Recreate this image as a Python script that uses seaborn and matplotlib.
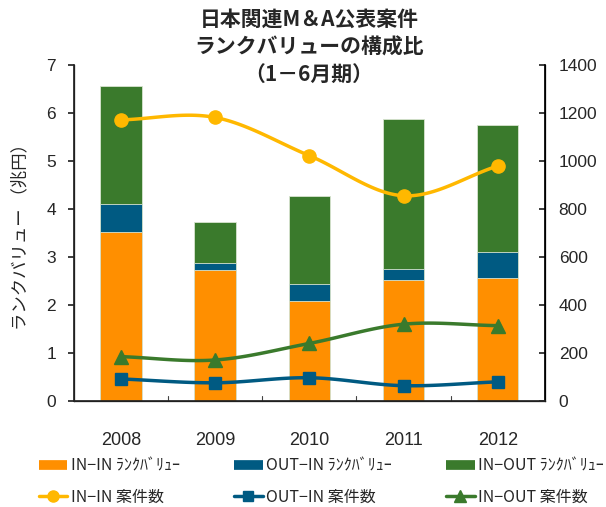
import numpy as np
import pandas as pd
import matplotlib
matplotlib.use("Agg")
import matplotlib.pyplot as plt
import seaborn as sns
from matplotlib.lines import Line2D

# ── Data ─────────────────────────────────────────────────────
years = ["2008", "2009", "2010", "2011", "2012"]
inin_value = [3.51, 2.73, 2.09, 2.52, 2.57]      # 兆円
outin_value = [0.59, 0.14, 0.34, 0.24, 0.54]
inout_value = [2.46, 0.85, 1.85, 3.11, 2.64]
inin_count = [1171, 1181, 1022, 855, 979]
outin_count = [92, 76, 97, 64, 80]
inout_count = [185, 171, 240, 320, 314]

# ── Colours ──────────────────────────────────────────────────
ORANGE = "#FF8F00"
BLUE = "#005A82"
GREEN = "#3A7A2C"
YELLOW = "#FFB800"

sns.set_theme(style="white")
plt.rcParams["font.family"] = ["Liberation Sans", "Noto Sans CJK JP", "DejaVu Sans"]
JP = ["Noto Sans CJK JP", "DejaVu Sans"]


def smooth(x, y, n=30):
    """Catmull-Rom style smoothing like Excel's smoothed line."""
    x = np.asarray(x, float)
    y = np.asarray(y, float)
    px = np.concatenate([[2 * x[0] - x[1]], x, [2 * x[-1] - x[-2]]])
    py = np.concatenate([[2 * y[0] - y[1]], y, [2 * y[-1] - y[-2]]])
    xs, ys = [], []
    for i in range(1, len(px) - 2):
        t = np.linspace(0, 1, n)
        for p, out in ((px, xs), (py, ys)):
            p0, p1, p2, p3 = p[i - 1], p[i], p[i + 1], p[i + 2]
            out.append(0.5 * ((2 * p1) + (-p0 + p2) * t
                              + (2 * p0 - 5 * p1 + 4 * p2 - p3) * t ** 2
                              + (-p0 + 3 * p1 - 3 * p2 + p3) * t ** 3))
    return np.concatenate(xs), np.concatenate(ys)


df = pd.DataFrame({"year": years, "inin": inin_value,
                   "outin": outin_value, "inout": inout_value})
df["lvl2"] = df["inin"] + df["outin"]
df["lvl3"] = df["lvl2"] + df["inout"]

fig = plt.figure(figsize=(6.06, 5.07), dpi=100)
ax = fig.add_axes([0.122, 0.209, 0.777, 0.663])

for col, color in (("lvl3", GREEN), ("lvl2", BLUE), ("inin", ORANGE)):
    sns.barplot(data=df, x="year", y=col, color=color, width=0.44,
                saturation=1, edgecolor="#d8e4d0", linewidth=0.6, ax=ax)

ax.set_ylim(0, 7)
ax.set_xlim(-0.5, 4.5)
ax.set_yticks(range(0, 8))
ax.set_xlabel("")
ax.set_ylabel("ランクバリュー （兆円）", family=JP, fontsize=12.5, labelpad=12)
ax.tick_params(axis="y", labelsize=12.5, length=4, direction="out", pad=9)
ax.set_xticks(range(5))
ax.set_xticklabels(years, fontsize=13)
ax.tick_params(axis="x", length=0, pad=22)
for b in np.arange(0.5, 4.5, 1):
    ax.plot([b, b], [0, 0.1], color="#444444", lw=0.8, zorder=1)
for s in ("left", "bottom", "right"):
    ax.spines[s].set_color("black")
    ax.spines[s].set_linewidth(0.9)
ax.spines["top"].set_visible(False)

ax2 = ax.twinx()
ax2.set_ylim(0, 1400)
ax2.set_yticks(range(0, 1401, 200))
ax2.tick_params(axis="y", labelsize=12.5, length=4, direction="in", pad=10)
ax2.spines["top"].set_visible(False)
ax2.spines["right"].set_color("black")

xpos = np.arange(len(years))
for vals, color, marker, ms in ((inin_count, YELLOW, "o", 9.5),
                                (outin_count, BLUE, "s", 9),
                                (inout_count, GREEN, "^", 10)):
    sx, sy = smooth(xpos, vals)
    ax2.plot(sx, sy, color=color, lw=2.5)
    ax2.plot(xpos, vals, ls="none", marker=marker, ms=ms, color=color)

for y, txt in ((0.963, "日本関連M＆A公表案件"),
               (0.908, "ランクバリューの構成比"),
               (0.852, "（1－6月期）")):
    fig.text(0.51, y, txt, family=JP, fontsize=15, fontweight="bold",
             ha="center", va="center")

bar_kw = dict(lw=7, solid_capstyle="butt")
handles = [
    Line2D([], [], color=ORANGE, **bar_kw), Line2D([], [], color=YELLOW, lw=2.5, marker="o", ms=8),
    Line2D([], [], color=BLUE, **bar_kw), Line2D([], [], color=BLUE, lw=2.5, marker="s", ms=7),
    Line2D([], [], color=GREEN, **bar_kw), Line2D([], [], color=GREEN, lw=2.5, marker="^", ms=8),
]
labels = ["IN−IN ﾗﾝｸﾊﾞﾘｭｰ", "IN−IN 案件数",
          "OUT−IN ﾗﾝｸﾊﾞﾘｭｰ", "OUT−IN 案件数",
          "IN−OUT ﾗﾝｸﾊﾞﾘｭｰ", "IN−OUT 案件数"]
fig.legend(handles, labels, ncol=3, loc="lower center",
           bbox_to_anchor=(0.53, -0.025), frameon=False,
           prop={"family": JP, "size": 11.5}, handlelength=1.8,
           handletextpad=0.2, columnspacing=3.4, labelspacing=0.85)

fig.savefig("out.png", dpi=100)
